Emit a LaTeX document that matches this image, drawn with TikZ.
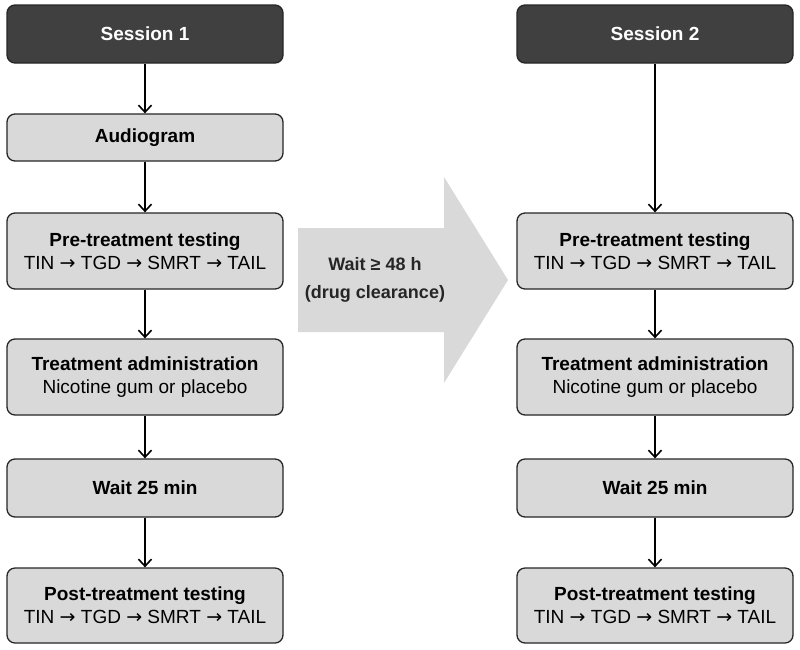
\documentclass[tikz,border=0pt]{standalone}
\usepackage{fontspec}
\setmainfont{Liberation Sans}
\newfontfamily\arrowfont{DejaVu Sans}
\newcommand{\ar}{ {\arrowfont →} }
\usetikzlibrary{arrows.meta}
\definecolor{boxgray}{HTML}{D9D9D9}
\definecolor{darkbox}{HTML}{404040}
\definecolor{bigarrow}{HTML}{D9D9D9}
\begin{document}
\begin{tikzpicture}[x=1pt,y=-1pt,
  box/.style={draw=black!85, line width=1.3pt, rounded corners=8pt, fill=boxgray,
    minimum width=276pt, align=center, inner sep=0pt, font=\fontsize{19}{23}\selectfont},
  head/.style={box, fill=darkbox, text=white, minimum height=58pt, font=\fontsize{19}{23}\selectfont\bfseries},
  conn/.style={line width=1.6pt, -{Straight Barb[length=7pt,width=13pt,line width=1.6pt]}}]
\useasboundingbox (0,0) rectangle (800,649);
% big arrow
\fill[bigarrow] (298,228) -- (444,228) -- (444,177) -- (508,280) -- (444,383) -- (444,332) -- (298,332) -- cycle;
\node[align=center, font=\fontsize{18}{28}\selectfont\bfseries, text=black!85] (wait48) at (375,280) {Wait ≥ 48 h\\(drug clearance)};
% left column
\node[head] (s1) at (145,34) {Session 1};
\node[box, minimum height=47pt] (aud) at (145,137.5) {\bfseries Audiogram};
\node[box, minimum height=76pt] (pre1) at (145,251) {\textbf{Pre-treatment testing}\\TIN\ar TGD\ar SMRT\ar TAIL};
\node[box, minimum height=76pt] (trt1) at (145,377) {\textbf{Treatment administration}\\Nicotine gum or placebo};
\node[box, minimum height=58pt] (w1) at (145,488) {\bfseries Wait 25 min};
\node[box, minimum height=75pt] (post1) at (145,605.5) {\textbf{Post-treatment testing}\\TIN\ar TGD\ar SMRT\ar TAIL};
% right column
\node[head] (s2) at (655,34) {Session 2};
\node[box, minimum height=76pt] (pre2) at (655,251) {\textbf{Pre-treatment testing}\\TIN\ar TGD\ar SMRT\ar TAIL};
\node[box, minimum height=76pt] (trt2) at (655,377) {\textbf{Treatment administration}\\Nicotine gum or placebo};
\node[box, minimum height=58pt] (w2) at (655,488) {\bfseries Wait 25 min};
\node[box, minimum height=75pt] (post2) at (655,605.5) {\textbf{Post-treatment testing}\\TIN\ar TGD\ar SMRT\ar TAIL};
% connectors
\draw[conn] (s1) -- (aud);
\draw[conn] (aud) -- (pre1);
\draw[conn] (pre1) -- (trt1);
\draw[conn] (trt1) -- (w1);
\draw[conn] (w1) -- (post1);
\draw[conn] (s2) -- (pre2);
\draw[conn] (pre2) -- (trt2);
\draw[conn] (trt2) -- (w2);
\draw[conn] (w2) -- (post2);
\end{tikzpicture}
\end{document}
